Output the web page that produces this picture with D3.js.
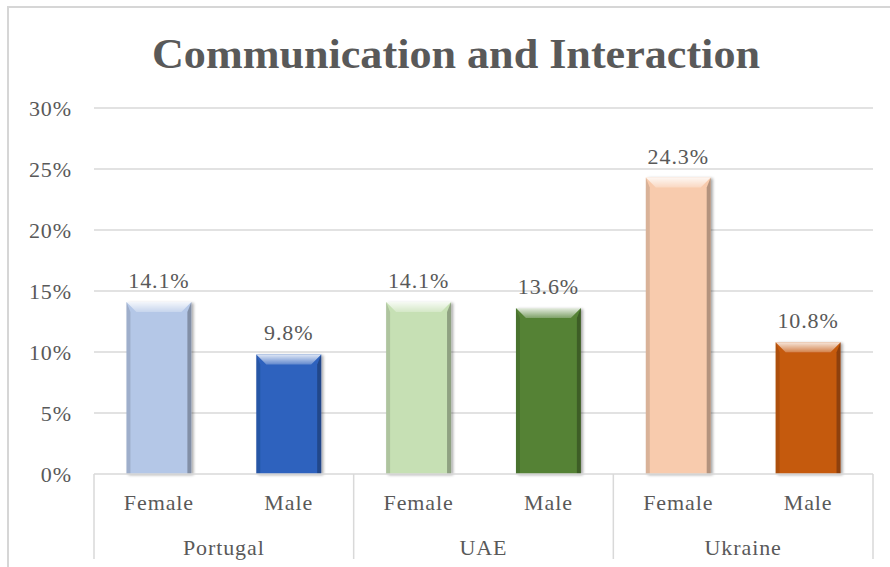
<!DOCTYPE html>
<html>
<head>
<meta charset="utf-8">
<script src="https://cdn.jsdelivr.net/npm/d3@7/dist/d3.min.js"></script>
<style>
  html, body { margin: 0; padding: 0; background: #fff; }
  svg { display: block; }
  svg text { fill: #595959; }
</style>
</head>
<body>
<svg id="chart" width="890" height="567"></svg>
<script>
// Chart data
const title = "Communication and Interaction";
const countries = ["Portugal", "UAE", "Ukraine"];
const genders = ["Female", "Male"];
const values = [14.1, 9.8, 14.1, 13.6, 24.3, 10.8];   // percent, country-major order
const barColors = ["#b4c7e7", "#2e62be", "#c6e0b4", "#548235", "#f8cbad", "#c55a11"];
const yTicks = [0, 5, 10, 15, 20, 25, 30];

const FONT = "'Liberation Serif', 'Times New Roman', 'DejaVu Serif', serif";
const svg = d3.select("#chart").style("font-family", FONT);
const W = 890, H = 567;
const plot = { left: 94, right: 873, top: 108, bottom: 474 };
const labelSize = 22, labelSpacing = "0.9px";

// Outer chart-area frame (only top and left edges fall inside the view)
svg.append("path")
  .attr("d", `M8,${H} V7 H${W}`)
  .attr("fill", "none").attr("stroke", "#d6d6d6").attr("stroke-width", 2);

// Title
svg.append("text")
  .attr("x", 456).attr("y", 68)
  .attr("text-anchor", "middle")
  .attr("font-size", 42).attr("font-weight", "bold")
  .attr("textLength", 608).attr("lengthAdjust", "spacingAndGlyphs")
  .text(title);

// Scales
const bars = [];
countries.forEach((c, ci) => genders.forEach((g, gi) => {
  const i = ci * genders.length + gi;
  bars.push({ key: c + "|" + g, country: c, gender: g, value: values[i], color: barColors[i] });
}));

const x = d3.scaleBand()
  .domain(bars.map(d => d.key))
  .range([plot.left, plot.right])
  .paddingInner(0.5).paddingOuter(0.25);
const xc = d3.scaleBand().domain(countries).range([plot.left, plot.right]);
const y = d3.scaleLinear().domain([0, 30]).range([plot.bottom, plot.top]);

// Gridlines
svg.append("g")
  .selectAll("line").data(yTicks.filter(t => t > 0)).join("line")
  .attr("x1", plot.left).attr("x2", plot.right)
  .attr("y1", d => y(d)).attr("y2", d => y(d))
  .attr("stroke", "#d9d9d9").attr("stroke-width", 1.3);

// Y axis tick labels
const yAxis = d3.axisLeft(y).tickValues(yTicks).tickFormat(d => d + "%").tickSize(0).tickPadding(0);
const yg = svg.append("g").attr("transform", `translate(${plot.left - 22},0)`).call(yAxis);
yg.attr("font-family", null);
yg.select(".domain").remove();
yg.selectAll("text").attr("font-size", labelSize).attr("fill", "#595959")
  .style("letter-spacing", labelSpacing);

// Bars with a beveled look
const defs = svg.append("defs");
const shadow = defs.append("filter").attr("id", "shadow")
  .attr("x", "-20%").attr("y", "-10%").attr("width", "150%").attr("height", "130%");
shadow.append("feGaussianBlur").attr("in", "SourceAlpha").attr("stdDeviation", 1.6);
shadow.append("feOffset").attr("dx", 2).attr("dy", 1).attr("result", "off");
shadow.append("feComponentTransfer").append("feFuncA").attr("type", "linear").attr("slope", 0.35);
const mrg = shadow.append("feMerge");
mrg.append("feMergeNode");
mrg.append("feMergeNode").attr("in", "SourceGraphic");

const topGrad = defs.append("linearGradient").attr("id", "bevelTop")
  .attr("x1", 0).attr("y1", 0).attr("x2", 0).attr("y2", 1);
topGrad.append("stop").attr("offset", 0).attr("stop-color", "#fff").attr("stop-opacity", 0.85);
topGrad.append("stop").attr("offset", 1).attr("stop-color", "#fff").attr("stop-opacity", 0.25);

const bevel = 10, side = 4;
const bg = svg.append("g");
const barG = bg.selectAll("g").data(bars).join("g").attr("filter", "url(#shadow)");

barG.append("rect")
  .attr("x", d => x(d.key)).attr("y", d => y(d.value))
  .attr("width", x.bandwidth()).attr("height", d => y(0) - y(d.value))
  .attr("fill", d => d.color);

// left edge shade
barG.append("path")
  .attr("d", d => {
    const x0 = x(d.key), y0 = y(d.value), yb = y(0);
    return `M${x0},${y0} L${x0 + side},${y0 + bevel} L${x0 + side},${yb} L${x0},${yb} Z`;
  })
  .attr("fill", "#000").attr("fill-opacity", 0.12);
// right edge shade
barG.append("path")
  .attr("d", d => {
    const x1 = x(d.key) + x.bandwidth(), y0 = y(d.value), yb = y(0);
    return `M${x1},${y0} L${x1 - side},${y0 + bevel} L${x1 - side},${yb} L${x1},${yb} Z`;
  })
  .attr("fill", "#000").attr("fill-opacity", 0.28);
// top bevel highlight
barG.append("path")
  .attr("d", d => {
    const x0 = x(d.key), x1 = x0 + x.bandwidth(), y0 = y(d.value);
    return `M${x0},${y0} L${x1},${y0} L${x1 - bevel},${y0 + bevel} L${x0 + bevel},${y0 + bevel} Z`;
  })
  .attr("fill", "url(#bevelTop)");

// Value labels
svg.append("g").selectAll("text").data(bars).join("text")
  .attr("x", d => x(d.key) + x.bandwidth() / 2)
  .attr("y", d => y(d.value) - 14)
  .attr("text-anchor", "middle")
  .attr("font-size", labelSize)
  .style("letter-spacing", labelSpacing)
  .text(d => d.value.toFixed(1) + "%");

// Category axis: baseline, group separators, labels
const ax = svg.append("g");
ax.append("line")
  .attr("x1", plot.left).attr("x2", plot.right)
  .attr("y1", plot.bottom).attr("y2", plot.bottom)
  .attr("stroke", "#d9d9d9").attr("stroke-width", 1.5);

const seps = countries.map(c => xc(c)).concat([plot.right]);
ax.selectAll("line.sep").data(seps).join("line").attr("class", "sep")
  .attr("x1", d => d).attr("x2", d => d)
  .attr("y1", plot.bottom).attr("y2", 559)
  .attr("stroke", "#d9d9d9").attr("stroke-width", 1.5);

ax.selectAll("text.g").data(bars).join("text").attr("class", "g")
  .attr("x", d => x(d.key) + x.bandwidth() / 2)
  .attr("y", 510)
  .attr("text-anchor", "middle").attr("font-size", labelSize)
  .style("letter-spacing", labelSpacing)
  .text(d => d.gender);

ax.selectAll("text.c").data(countries).join("text").attr("class", "c")
  .attr("x", d => xc(d) + xc.bandwidth() / 2)
  .attr("y", 555)
  .attr("text-anchor", "middle").attr("font-size", labelSize)
  .style("letter-spacing", labelSpacing)
  .text(d => d);
</script>
</body>
</html>
